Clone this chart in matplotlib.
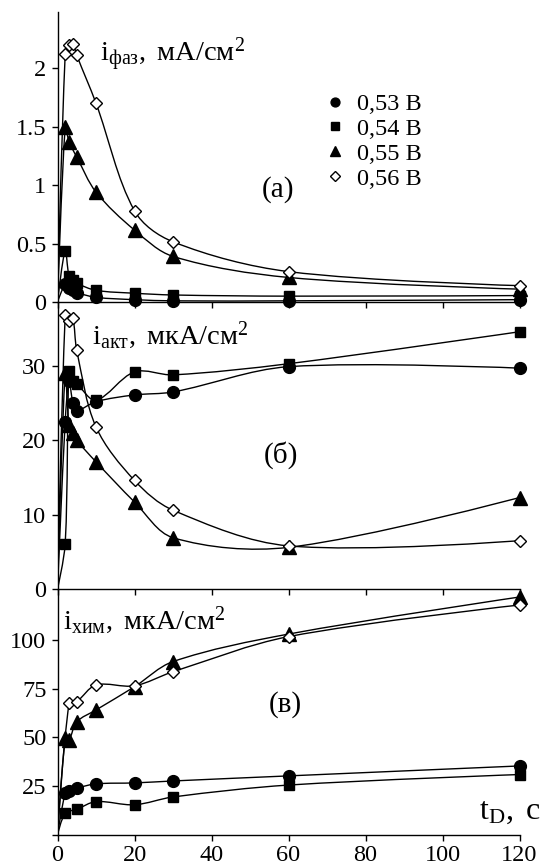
import numpy as np
import matplotlib
matplotlib.use("Agg")
import matplotlib.pyplot as plt
from matplotlib.path import Path
from matplotlib.patches import PathPatch
from matplotlib.lines import Line2D

plt.rcParams['font.family'] = ['Liberation Serif', 'DejaVu Serif']
plt.rcParams['mathtext.fontset'] = 'custom'
plt.rcParams['mathtext.rm'] = 'Liberation Serif'
plt.rcParams['mathtext.it'] = 'Liberation Serif:italic'

nan = np.nan

# время, с
t = [0, 2, 3, 4, 5, 10, 20, 30, 60, 120]
labels = ['0,53 В', '0,54 В', '0,55 В', '0,56 В']

# (a) i фаз, мА/см2
a_053 = [0, 0.15, 0.12, 0.10, 0.08, 0.04, 0.02, 0.01, 0.01, 0.02]
a_054 = [0, 0.44, 0.22, 0.19, 0.16, 0.10, 0.075, 0.06, 0.05, 0.055]
a_055 = [0, 1.50, 1.37, nan, 1.24, 0.94, 0.615, 0.39, 0.21, 0.11]
a_056 = [0, 2.12, 2.20, 2.21, 2.11, 1.70, 0.78, 0.515, 0.26, 0.14]

# (б) i акт, мкА/см2
b_053 = [0, 22.5, 28.0, 25.0, 24.0, 25.2, 26.1, 26.5, 29.9, 29.7]
b_054 = [0, 6.1, 29.3, 28.0, 27.6, 25.4, 29.2, 28.8, 30.3, 34.6]
b_055 = [0, 29.0, 22.0, 21.0, 20.0, 17.1, 11.7, 6.9, 5.6, 12.3]
b_056 = [0, 36.8, 36.0, 36.4, 32.1, 21.8, 14.6, 10.6, 5.8, 6.5]

# (в) i хим, мкА/см2
c_053 = [0, 21.5, 22.4, nan, 24.0, 26.2, 26.7, 27.7, 30.3, 35.4]
c_054 = [0, 11.1, nan, nan, 13.2, 17.1, 15.5, 19.5, 25.6, 31.0]
c_055 = [0, 49.6, 48.7, nan, 58.0, 64.1, 76.0, 88.9, 103.0, 122.0]
c_056 = [0, nan, 67.5, nan, 68.4, 76.9, 76.5, 83.7, 101.7, 117.9]

styles = [
    dict(marker='o', ms=8.5, mfc='black'),
    dict(marker='s', ms=7.5, mfc='black'),
    dict(marker='^', ms=9.5, mfc='black'),
    dict(marker='D', ms=6.3, mfc='white'),
]


def smooth_line(ax, x, y):
    # сглаженная линия (Bezier, касательные по соседним точкам)
    p = ax.transData.transform(np.column_stack([x, y]))
    n = len(p)
    d = np.hypot(*np.diff(p, axis=0).T)
    tan = np.zeros_like(p)
    for i in range(n):
        if 0 < i < n - 1:
            tan[i] = (p[i + 1] - p[i - 1]) / (d[i - 1] + d[i])
    verts = [p[0]]
    codes = [Path.MOVETO]
    for i in range(n - 1):
        verts += [p[i] + tan[i] * d[i] / 3, p[i + 1] - tan[i + 1] * d[i] / 3, p[i + 1]]
        codes += [Path.CURVE4] * 3
    verts = ax.transData.inverted().transform(np.array(verts))
    ax.add_patch(PathPatch(Path(verts, codes), fill=False, lw=1.0, ec='black'))


fig = plt.figure(figsize=(5.44, 8.68), dpi=100)
left, width = 57.5 / 544, 462 / 544
ax_a = fig.add_axes([left, 1 - 302 / 868, width, 290 / 868])
ax_b = fig.add_axes([left, 1 - 589 / 868, width, 287 / 868])
ax_c = fig.add_axes([left, 1 - 835 / 868, width, 245 / 868])

panels = [
    (ax_a, [a_053, a_054, a_055, a_056], (0, 2.48), [0, 0.5, 1, 1.5, 2], ['0', '0.5', '1', '1.5', '2']),
    (ax_b, [b_053, b_054, b_055, b_056], (0, 38.6), [0, 10, 20, 30], ['0', '10', '20', '30']),
    (ax_c, [c_053, c_054, c_055, c_056], (0, 125.6), [0, 25, 50, 75, 100], ['', '25', '50', '75', '100']),
]

tt = np.array(t, dtype=float)
for ax, series, ylim, yt, ytl in panels:
    ax.set_xlim(0, 120)
    ax.set_ylim(*ylim)
    ax.patch.set_alpha(0)
    for s in ['top', 'right']:
        ax.spines[s].set_visible(False)
    for s in ['left', 'bottom']:
        ax.spines[s].set_linewidth(1.0)
    ax.set_xticks([0, 20, 40, 60, 80, 100, 120])
    ax.set_yticks(yt)
    ax.set_yticklabels(ytl)
    ax.tick_params(direction='out', length=4, width=1.0, labelsize=17.5, pad=4)
    ax.tick_params(axis='x', pad=3.5)
    if ax is not ax_c:
        ax.tick_params(axis='x', labelbottom=False)
    for vals, st in zip(series, styles):
        v = np.array(vals, dtype=float)
        ok = ~np.isnan(v)
        smooth_line(ax, tt[ok], v[ok])
        ax.plot(tt[ok][1:], v[ok][1:], linestyle='none', mec='black', mew=1.0,
                clip_on=False, zorder=3, **st)

# подписи
fig.text(100 / 544, 1 - 62 / 868, r'$\mathrm{i}_{\mathrm{фаз}}\mathrm{,\ мА/см}^{2}$', fontsize=20.5,
         ha='left', va='baseline')
fig.text(92 / 544, 1 - 344 / 868, r'$\mathrm{i}_{\mathrm{акт}}\mathrm{,\ мкА/см}^{2}$', fontsize=20.5,
         ha='left', va='baseline')
fig.text(63 / 544, 1 - 629 / 868, r'$\mathrm{i}_{\mathrm{хим}}\mathrm{,\ мкА/см}^{2}$', fontsize=20.5,
         ha='left', va='baseline')
fig.text(278 / 544, 1 - 190 / 868, '(a)', fontsize=21, ha='center', va='center')
fig.text(281 / 544, 1 - 455 / 868, '(б)', fontsize=21, ha='center', va='center')
fig.text(285 / 544, 1 - 705 / 868, '(в)', fontsize=21, ha='center', va='center')
fig.text(541 / 544, 1 - 819 / 868, r'$\mathrm{t}_{\mathrm{D}}\mathrm{,\ с}$', fontsize=23,
         ha='right', va='baseline')

handles = [Line2D([], [], linestyle='none', mec='black', mew=1.0,
                  **dict(st, ms=st['ms'] * 0.75)) for st in styles]
fig.legend(handles, labels, loc='upper left', bbox_to_anchor=(325 / 544, 1 - 93 / 868),
           frameon=False, fontsize=17.5, handlelength=0.8, handletextpad=0.5,
           labelspacing=0.12, borderpad=0, borderaxespad=0)

fig.savefig('out.png', dpi=100)
